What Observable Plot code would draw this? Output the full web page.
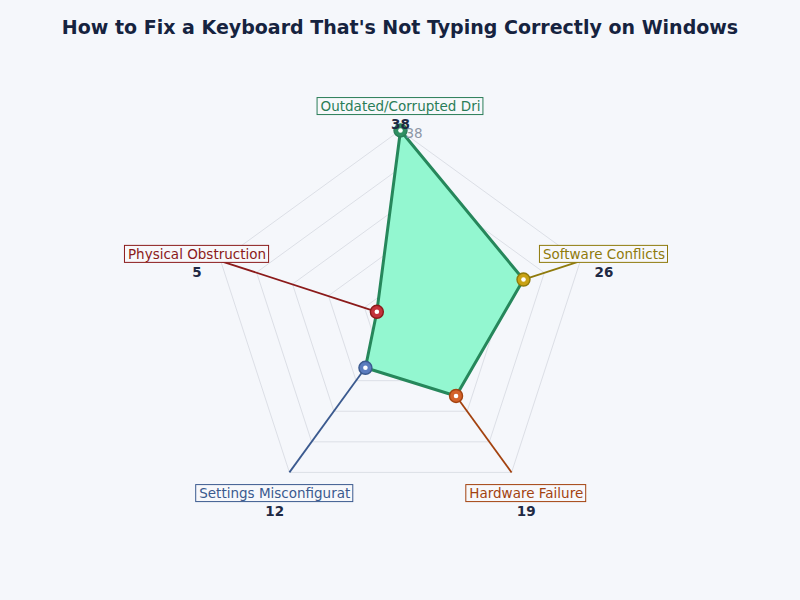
<!DOCTYPE html>
<html>
<head>
<meta charset="utf-8">
<script src="https://cdn.jsdelivr.net/npm/d3@7"></script>
<script src="https://cdn.jsdelivr.net/npm/@observablehq/plot@0.6"></script>
<style>
  html, body { margin: 0; padding: 0; background: #f5f7fb; }
  body { width: 800px; height: 600px; overflow: hidden; font-family: "DejaVu Sans", sans-serif; }
  #title { height: 54px; line-height: 54px; text-align: center; font-size: 19px; font-weight: bold; color: #16233f; margin: 0; }
  #chart svg { display: block; background: transparent; }
</style>
</head>
<body>
<h1 id="title">How to Fix a Keyboard That's Not Typing Correctly on Windows</h1>
<div id="chart"></div>
<script>
const categories = ["Outdated/Corrupted Drivers", "Software Conflicts", "Hardware Failure", "Settings Misconfiguration", "Physical Obstruction"];
const values = [38, 26, 19, 12, 5];
const markerColors = ["#2f8f62", "#c9a214", "#d3622b", "#5b7cbe", "#c3323b"];
const accentColors = ["#2a7d58", "#8f7a0c", "#a3420f", "#3b5a8f", "#8b1a1a"];
const ringLevels = [7.6, 15.2, 22.8, 30.4, 38];
const ringLabels = ["38"];
const maxValue = 38;

const n = categories.length;
const R = 189, W = 800, H = 546, cx = 400, cy = 265;
const labelFont = "13.5px 'DejaVu Sans'";
const ctx = document.createElement("canvas").getContext("2d");
ctx.font = labelFont;

const rScale = d3.scaleLinear([0, maxValue], [0, 1]);
const angle = i => (i * 2 * Math.PI) / n;
const px = (v, i) => rScale(v) * Math.sin(angle(i));
const py = (v, i) => rScale(v) * Math.cos(angle(i));
const labelR = maxValue * 1.132;

const data = categories.map((c, i) => {
  const label = c.slice(0, 22);
  const halfW = (ctx.measureText(label).width / 2 + 3) / R;
  const halfH = 8.5 / R;
  const lx = px(labelR, i), ly = py(labelR, i);
  return {
    cat: c, i, value: values[i],
    x: px(values[i], i), y: py(values[i], i),
    ox: px(maxValue, i), oy: py(maxValue, i),
    lx, ly, label,
    bx1: lx - halfW, bx2: lx + halfW, by1: ly - halfH, by2: ly + halfH,
    marker: markerColors[i], accent: accentColors[i]
  };
});

const rings = ringLevels.flatMap(lv => categories.map((c, i) => ({ lv, x: px(lv, i), y: py(lv, i) })));

const chart = Plot.plot({
  width: W, height: H, margin: 0,
  x: { domain: [-cx / R, (W - cx) / R], axis: null },
  y: { domain: [-(H - cy) / R, cy / R], axis: null },
  style: { background: "transparent", fontFamily: "'DejaVu Sans', sans-serif" },
  marks: [
    Plot.line(rings, { x: "x", y: "y", z: "lv", curve: "linear-closed", stroke: "#dcdfe6", strokeWidth: 1 }),
    Plot.link(data, { x1: "x", y1: "y", x2: "ox", y2: "oy", stroke: "accent", strokeWidth: 1.8 }),
    Plot.line(data, { x: "x", y: "y", curve: "linear-closed", fill: "#93f7d0", stroke: "#26875b", strokeWidth: 3 }),
    Plot.dot(data, { x: "x", y: "y", r: 6.5, fill: "marker", stroke: "accent", strokeWidth: 1.4 }),
    Plot.dot(data, { x: "x", y: "y", r: 2.3, fill: "white" }),
    Plot.text(ringLabels, { x: () => px(maxValue, 0), y: () => py(maxValue, 0), text: d => d, textAnchor: "start", dx: 5, dy: 3, fill: "#8d96a6", fontSize: 13.5 }),
    Plot.rect(data, { x1: "bx1", x2: "bx2", y1: "by1", y2: "by2", dy: 1, fill: "#f7f8fb", stroke: "accent", strokeWidth: 1 }),
    Plot.text(data, { x: "lx", y: "ly", text: "label", dy: 1, fill: "accent", fontSize: 13.5 }),
    Plot.text(data, { x: "lx", y: "ly", text: d => String(d.value), dy: 19, fill: "#1f2a44", fontSize: 13.5, fontWeight: "bold" })
  ]
});
document.getElementById("chart").appendChild(chart);
</script>
</body>
</html>
